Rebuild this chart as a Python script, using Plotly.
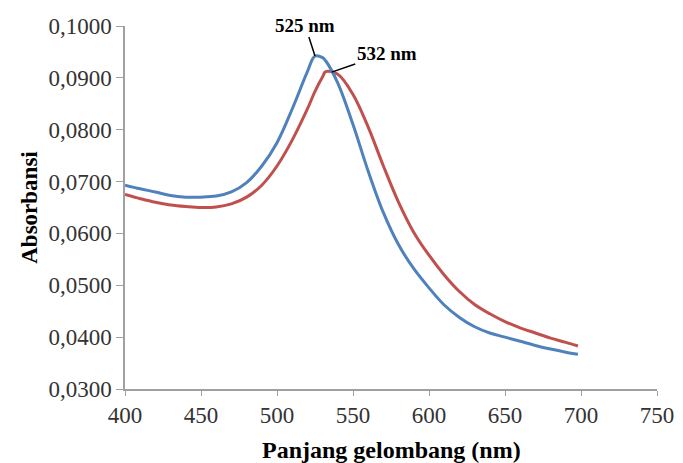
import plotly.graph_objects as go

wl = [400, 410, 420, 430, 440, 450, 460, 470, 480, 490, 500, 510, 520, 525, 530, 532,
      540, 550, 560, 570, 580, 590, 600, 610, 620, 630, 640, 650, 660, 670, 680, 690, 698]
blue = [0.0693, 0.0686, 0.0680, 0.0673, 0.0670, 0.0670, 0.0672, 0.0680, 0.0698, 0.0730, 0.0775,
        0.0840, 0.0912, 0.0942, 0.0939, 0.0933, 0.0890, 0.0810, 0.0720, 0.0640, 0.0578, 0.0532,
        0.0495, 0.0462, 0.0438, 0.0420, 0.0408, 0.0400, 0.0392, 0.0384, 0.0377, 0.0371, 0.0367]
red = [0.0675, 0.0667, 0.0660, 0.0655, 0.0652, 0.0650, 0.0651, 0.0657, 0.0670, 0.0693, 0.0730,
       0.0780, 0.0840, 0.0874, 0.0902, 0.0912, 0.0907, 0.0868, 0.0805, 0.0730, 0.0660, 0.0602,
       0.0558, 0.0520, 0.0488, 0.0463, 0.0445, 0.0430, 0.0418, 0.0408, 0.0398, 0.0390, 0.0383]

fig = go.Figure()
fig.add_trace(go.Scatter(x=wl, y=red, mode="lines", line=dict(color="#c0504d", width=3, shape="spline"),
                         showlegend=False))
fig.add_trace(go.Scatter(x=wl, y=blue, mode="lines", line=dict(color="#4f81bd", width=3, shape="spline"),
                         showlegend=False))

fig.add_annotation(x=525, y=0.0942, text="<b>525 nm</b>", showarrow=True, arrowhead=0,
                   arrowwidth=1.5, arrowcolor="black", ax=-10, ay=-31, standoff=0,
                   font=dict(family="Liberation Serif", size=19, color="black"))
fig.add_annotation(x=536, y=0.0911, text="<b>532 nm</b>", showarrow=True, arrowhead=0,
                   arrowwidth=1.5, arrowcolor="black", ax=55, ay=-19, standoff=0,
                   font=dict(family="Liberation Serif", size=19, color="black"))
fig.add_annotation(xref="paper", yref="paper", x=0.5, y=-0.168, xanchor="center", yanchor="middle",
                   text="<b>Panjang gelombang (nm)</b>", showarrow=False,
                   font=dict(family="Liberation Serif", size=24, color="black"))

fig.update_layout(
    width=683, height=463,
    margin=dict(l=125, r=26, t=26, b=74),
    plot_bgcolor="white", paper_bgcolor="white",
    separators=",.",
    font=dict(family="Liberation Serif", size=23, color="#333333"),
)
fig.update_xaxes(range=[400, 750], dtick=50, tick0=400, showgrid=False, zeroline=False,
                 showline=True, linecolor="#a0a0a0", linewidth=1.5, ticks="outside",
                 tickcolor="#a0a0a0", ticklen=5, automargin=False)
fig.update_yaxes(range=[0.03, 0.1], dtick=0.01, tick0=0.03, tickformat=".4f", showgrid=False,
                 zeroline=False, showline=True, linecolor="#a0a0a0", linewidth=1.5, ticks="outside",
                 tickcolor="#a0a0a0", ticklen=7, automargin=False,
                 title=dict(text="<b>Absorbansi</b>",
                            font=dict(family="Liberation Serif", size=23, color="black"), standoff=4))

fig.write_html("out.html", config={"displayModeBar": False},
               post_script="document.body.style.margin='0';document.body.style.overflow='hidden';")
